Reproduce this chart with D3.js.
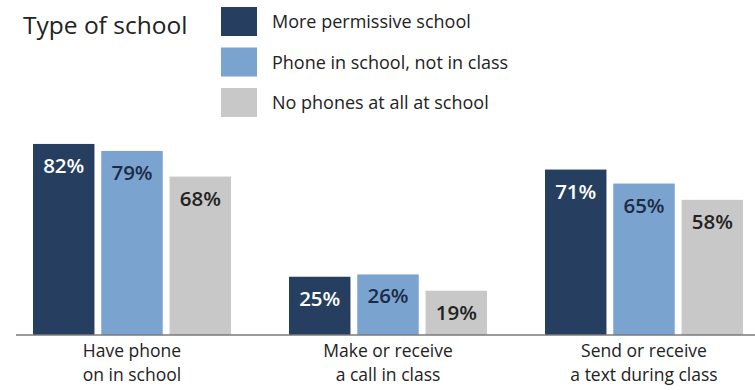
<!DOCTYPE html>
<html>
<head>
<meta charset="utf-8">
<script src="https://cdn.jsdelivr.net/npm/d3@7"></script>
<style>
  body { margin: 0; background: #fff; }
  text { font-family: "Open Sans", sans-serif; }
</style>
</head>
<body>
<svg id="chart" width="755" height="390"></svg>
<script>
const categories = [['Have phone', 'on in school'], ['Make or receive', 'a call in class'], ['Send or receive', 'a text during class']]
const seriesNames = ['More permissive school', 'Phone in school, not in class', 'No phones at all at school']
const permissive = [82, 25, 71]
const notInClass = [79, 26, 65]
const noPhones = [68, 19, 58]

const colors = ['#263e60', '#7ba3cf', '#c8c8c8']
const labelColors = ['#ffffff', '#1c2b45', '#222222']

const svg = d3.select('#chart')
const baseline = 335

// rows of data per category
const data = categories.map((c, i) => ({
  key: i,
  lines: c,
  values: [permissive[i], notInClass[i], noPhones[i]].map((v, j) => ({ series: j, value: v }))
}))

// scales
const xScale = d3.scaleBand()
  .domain(data.map(d => d.key))
  .range([4, 772])
  .paddingInner(0.2266)
  .paddingOuter(0.1133)

const xInner = d3.scaleBand()
  .domain(d3.range(seriesNames.length))
  .range([0, xScale.bandwidth()])
  .paddingInner(0.1)

const yScale = d3.scaleLinear()
  .domain([0, 100])
  .range([baseline, baseline - 233])

// bars
const groups = svg.selectAll('.group')
  .data(data)
  .join('g')
  .attr('class', 'group')
  .attr('transform', d => `translate(${xScale(d.key)},0)`)

groups.selectAll('rect')
  .data(d => d.values)
  .join('rect')
  .attr('x', d => xInner(d.series))
  .attr('y', d => yScale(d.value))
  .attr('width', xInner.bandwidth())
  .attr('height', d => baseline - yScale(d.value))
  .attr('fill', d => colors[d.series])

// value labels inside bars
groups.selectAll('.val')
  .data(d => d.values)
  .join('text')
  .attr('class', 'val')
  .attr('x', d => xInner(d.series) + xInner.bandwidth() / 2)
  .attr('y', d => yScale(d.value) + 29)
  .attr('text-anchor', 'middle')
  .attr('font-size', 20.5)
  .attr('font-weight', 600)
  .attr('fill', d => labelColors[d.series])
  .text(d => d.value + '%')

// baseline
svg.append('line')
  .attr('x1', 16).attr('x2', 755)
  .attr('y1', baseline).attr('y2', baseline)
  .attr('stroke', '#7a7a7a')
  .attr('stroke-width', 1.5)

// category labels, one text per line
const catGroups = svg.append('g')
  .selectAll('g')
  .data(data)
  .join('g')
  .attr('transform', d => `translate(${xScale(d.key) + xScale.bandwidth() / 2},0)`)

catGroups.selectAll('text')
  .data(d => d.lines)
  .join('text')
  .attr('y', (d, i) => 357 + i * 24)
  .attr('text-anchor', 'middle')
  .attr('font-size', 17.5)
  .attr('fill', '#222')
  .text(d => d)

// title
svg.append('text')
  .attr('x', 23)
  .attr('y', 34)
  .attr('font-size', 24.5)
  .attr('fill', '#222')
  .text('Type of school')

// legend
const legend = svg.append('g')
  .selectAll('g')
  .data(seriesNames)
  .join('g')
  .attr('transform', (d, i) => `translate(221, ${7 + i * 40.5})`)

legend.append('rect')
  .attr('width', 36)
  .attr('height', 29)
  .attr('fill', (d, i) => colors[i])

legend.append('text')
  .attr('x', 51)
  .attr('y', 21)
  .attr('font-size', 18)
  .attr('fill', '#222')
  .text(d => d)
</script>
</body>
</html>
